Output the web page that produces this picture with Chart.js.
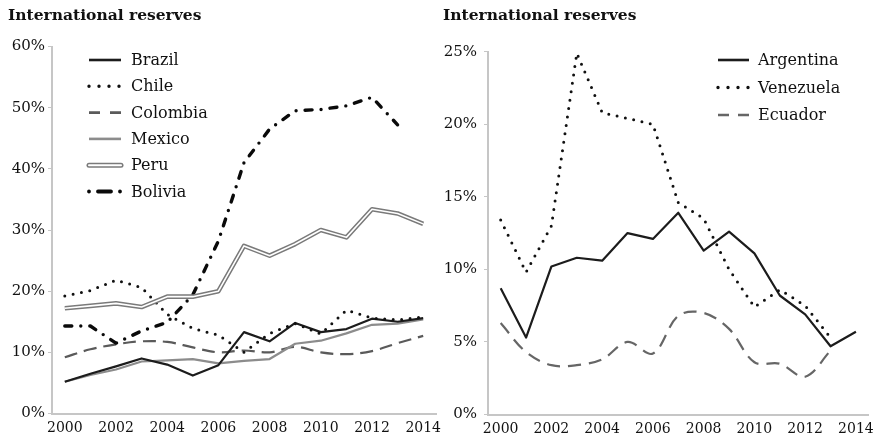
<!DOCTYPE html>
<html>
<head>
<meta charset="utf-8">
<title>International reserves</title>
<script src="https://cdn.jsdelivr.net/npm/chart.js@4.4.1/dist/chart.umd.min.js"></script>
<style>
    body { margin: 0; background: #fff; }
    #wrap { position: relative; width: 880px; height: 439px; overflow: hidden; }
    #leftChart { position: absolute; left: 0; top: 0; }
    #rightChart { position: absolute; left: 440px; top: 0; }
</style>
</head>
<body>
<div id="wrap">
    <canvas id="leftChart" width="450" height="439"></canvas>
    <canvas id="rightChart" width="440" height="439"></canvas>
</div>
<script>
// reserves as % of GDP, 2000-2014
const years = ['2000', '2001', '2002', '2003', '2004', '2005', '2006', '2007',
    '2008', '2009', '2010', '2011', '2012', '2013', '2014'];

const brazil   = [5.2, 6.5, 7.7, 9.0, 8.0, 6.2, 7.9, 13.3, 11.8, 14.8, 13.3, 13.8, 15.5, 15.0, 15.6];
const chile    = [19.2, 20.1, 21.8, 20.6, 16.2, 13.9, 12.8, 10.0, 13.1, 14.7, 13.0, 16.9, 15.6, 15.3, 15.8];
const colombia = [9.2, 10.5, 11.3, 11.8, 11.7, 10.8, 10.0, 10.3, 10.0, 10.9, 10.0, 9.7, 10.2, 11.5, 12.7];
const mexico   = [5.2, 6.3, 7.2, 8.5, 8.7, 8.9, 8.2, 8.6, 8.9, 11.4, 11.9, 13.1, 14.5, 14.7, 15.4];
const peru     = [17.2, 17.6, 18.0, 17.4, 19.1, 19.1, 20.0, 27.4, 25.8, 27.7, 30.0, 28.8, 33.4, 32.7, 31.0];
const bolivia  = [14.3, 14.3, 11.5, 13.5, 14.9, 19.4, 28.2, 41.0, 46.5, 49.5, 49.7, 50.3, 51.7, 47.2, null];

const argentina = [8.7, 5.3, 10.2, 10.8, 10.6, 12.5, 12.1, 13.9, 11.3, 12.6, 11.1, 8.2, 6.9, 4.7, 5.7];
const venezuela = [13.4, 9.8, 13.0, 24.9, 20.8, 20.4, 20.0, 14.6, 13.5, 10.0, 7.4, 8.6, 7.5, 5.3, null];
const ecuador   = [6.3, 4.3, 3.4, 3.4, 3.8, 5.0, 4.2, 6.8, 7.0, 5.9, 3.6, 3.5, 2.6, 4.4, null];

const leftTicks = [0, 10, 20, 30, 40, 50, 60];
const rightTicks = [0, 5, 10, 15, 20, 25];

// line look per country
const lineStyles = {
    Brazil:    { color: '#1c1c1c', width: 2.2 },
    Chile:     { color: '#111', width: 3, dash: [0, 8.5], cap: 'round', legendDash: [0, 10] },
    Colombia:  { color: '#5a5a5a', width: 2.2, dash: [13, 7], tension: 0.35, legendDash: [11, 10] },
    Mexico:    { color: '#8c8c8c', width: 2.2 },
    Peru:      { color: '#7a7a7a', width: 4.6, double: true },
    Bolivia:   { color: '#0a0a0a', width: 3.4, dash: [7, 9, 0, 9], cap: 'round', legendDash: [0, 9, 13, 9] },
    Argentina: { color: '#1c1c1c', width: 2.2 },
    Venezuela: { color: '#111', width: 3, dash: [0, 8.5], cap: 'round', legendDash: [0, 10] },
    Ecuador:   { color: '#666', width: 2.2, dash: [13, 8], tension: 0.35, legendDash: [11, 9] }
};

const FONT = '"DejaVu Serif", serif';
Chart.defaults.font.family = FONT;
Chart.defaults.color = '#111';

function makeDataset(name, values) {
    const s = lineStyles[name];
    return {
        label: name,
        data: values,
        borderColor: s.color,
        borderWidth: s.width,
        borderDash: s.dash || [],
        borderCapStyle: s.cap || 'butt',
        borderJoinStyle: 'round',
        tension: s.tension || 0,
        pointRadius: 0,
        fill: false
    };
}

// Peru is a hollow line: grey stroke with a thin white core on top
function peruDatasets(values) {
    const outer = makeDataset('Peru', values);
    const inner = Object.assign({}, outer, { label: 'Peru core', borderColor: '#ffffff', borderWidth: 1.6 });
    return [inner, outer];
}

// title + legend drawn straight on the canvas
const panelDecor = {
    id: 'panelDecor',
    afterDraw(chart, args, opts) {
        const ctx = chart.ctx;
        ctx.save();
        ctx.fillStyle = '#111';
        ctx.font = 'bold 15.5px ' + FONT;
        ctx.textBaseline = 'alphabetic';
        ctx.textAlign = 'left';
        ctx.fillText(opts.title, opts.titleX, opts.titleY);

        ctx.font = '16px ' + FONT;
        ctx.textBaseline = 'middle';
        opts.names.forEach((name, i) => {
            const s = lineStyles[name];
            const y = opts.y + i * opts.rowH;
            const x0 = opts.x;
            const x1 = opts.x + opts.lineLen;
            ctx.save();
            ctx.beginPath();
            ctx.moveTo(x0, y);
            ctx.lineTo(x1, y);
            if (s.double) {
                ctx.lineCap = 'round';
                ctx.strokeStyle = s.color;
                ctx.lineWidth = 5;
                ctx.stroke();
                ctx.strokeStyle = '#fff';
                ctx.lineWidth = 2;
                ctx.stroke();
            } else {
                ctx.setLineDash(s.legendDash || s.dash || []);
                ctx.lineCap = s.cap || 'butt';
                ctx.strokeStyle = s.color;
                ctx.lineWidth = s.width + 0.4;
                ctx.stroke();
            }
            ctx.restore();
            ctx.fillStyle = '#111';
            ctx.fillText(name, x1 + opts.gap, y + 1);
        });
        ctx.restore();
    }
};

function buildScales(ticksList, yWidth, xHeight, labelPad) {
    const axisColor = '#c6c6c6';
    return {
        x: {
            type: 'category',
            offset: true,
            grid: { display: false, drawTicks: false },
            border: { display: true, color: axisColor, width: 2 },
            ticks: {
                autoSkip: false,
                maxRotation: 0,
                padding: 6,
                color: '#111',
                font: { family: FONT, size: 14 },
                callback: function(value, index) {
                    return index % 2 === 0 ? this.getLabelForValue(value) : '';
                }
            },
            afterFit: scale => { scale.height = xHeight; }
        },
        y: {
            min: ticksList[0],
            max: ticksList[ticksList.length - 1],
            afterBuildTicks: scale => { scale.ticks = ticksList.map(v => ({ value: v })); },
            grid: { drawOnChartArea: false, drawTicks: true, tickLength: 4, color: axisColor },
            border: { display: true, color: axisColor, width: 2 },
            ticks: {
                padding: labelPad,
                color: '#111',
                font: { family: FONT, size: 15 },
                callback: v => v + '%'
            },
            afterFit: scale => { scale.width = yWidth; }
        }
    };
}

function buildChart(canvasId, datasets, ticksList, layout, decor) {
    return new Chart(document.getElementById(canvasId), {
        type: 'line',
        data: { labels: years, datasets: datasets },
        options: {
            responsive: false,
            animation: false,
            layout: { padding: layout.padding },
            scales: buildScales(ticksList, layout.yWidth, layout.xHeight, layout.labelPad),
            plugins: {
                legend: { display: false },
                tooltip: { enabled: false },
                panelDecor: decor
            }
        },
        plugins: [panelDecor]
    });
}

// left panel: six countries
buildChart('leftChart', [
    ...peruDatasets(peru),
    makeDataset('Chile', chile),
    makeDataset('Brazil', brazil),
    makeDataset('Bolivia', bolivia),
    makeDataset('Mexico', mexico),
    makeDataset('Colombia', colombia)
], leftTicks, {
    padding: { top: 46.5, right: 14, left: 0, bottom: 0 },
    yWidth: 52, xHeight: 25.5, labelPad: 3
}, {
    title: 'International reserves', titleX: 8, titleY: 20,
    names: ['Brazil', 'Chile', 'Colombia', 'Mexico', 'Peru', 'Bolivia'],
    x: 89, y: 60, rowH: 26.3, lineLen: 32, gap: 10
});

// right panel: three countries
buildChart('rightChart', [
    makeDataset('Venezuela', venezuela),
    makeDataset('Argentina', argentina),
    makeDataset('Ecuador', ecuador)
], rightTicks, {
    padding: { top: 51.7, right: 8, left: 0, bottom: 0 },
    yWidth: 48, xHeight: 24.5, labelPad: 7
}, {
    title: 'International reserves', titleX: 3, titleY: 20,
    names: ['Argentina', 'Venezuela', 'Ecuador'],
    x: 278, y: 60, rowH: 27.5, lineLen: 31, gap: 9
});
</script>
</body>
</html>
